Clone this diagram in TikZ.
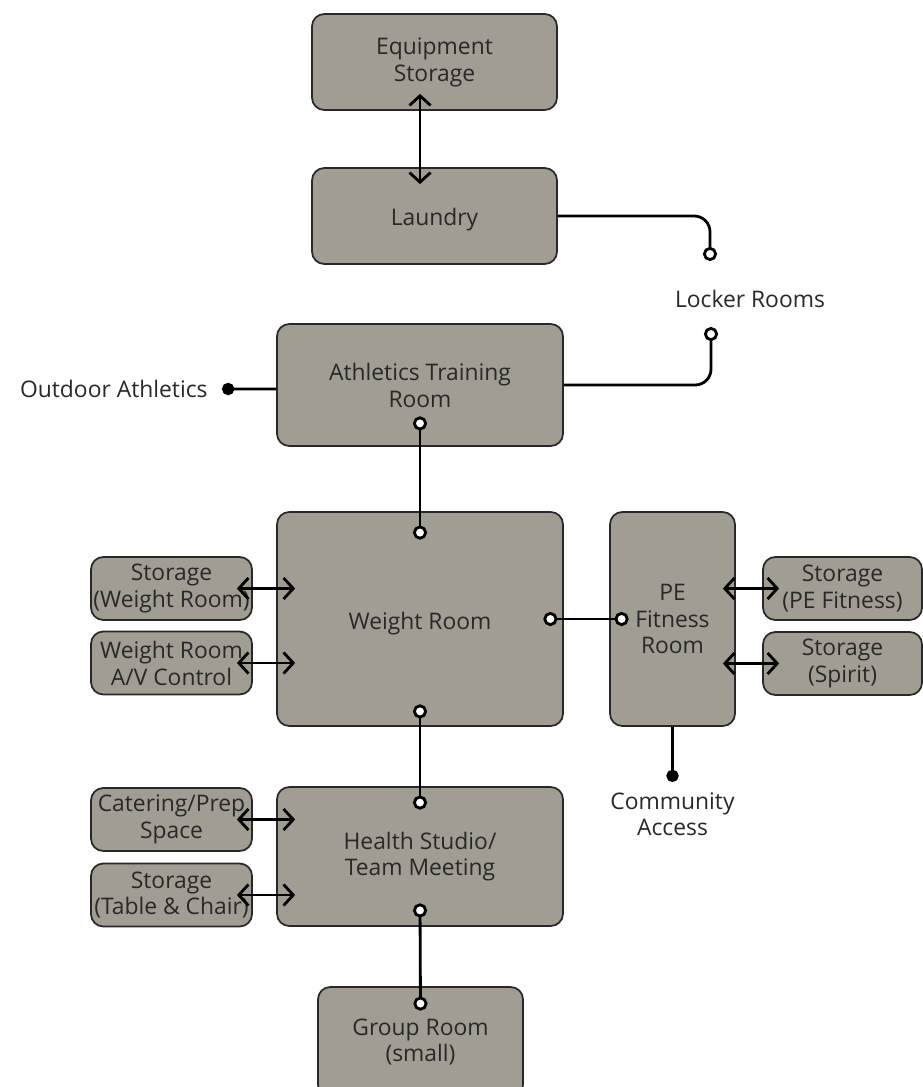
\documentclass[tikz,border=0pt]{standalone}
\usepackage{fontspec}
\setmainfont{Open Sans}
\usepackage{tikz}
\usetikzlibrary{arrows.meta,calc}
\usepackage{xcolor}
\definecolor{roomfill}{RGB}{162,157,146}
\definecolor{roomline}{RGB}{40,40,40}
\definecolor{roomtext}{RGB}{40,40,40}

\begin{document}
\begin{tikzpicture}[
    room/.style={draw=roomline, line width=1pt, rounded corners=7pt, fill=roomfill, text=roomtext,
        align=center, font=\fontsize{13}{15.3}\selectfont, minimum width=#1,
        execute at begin node={\rule{0pt}{14.5pt}}},
    side/.style={room, minimum width=3.22cm, minimum height=1.26cm, inner sep=0pt},
    tag/.style={text=roomtext, align=center, font=\fontsize{13}{15.3}\selectfont},
    dbl/.style={{Straight Barb[length=5.5pt,width=12pt]}-{Straight Barb[length=5.5pt,width=12pt]}, line width=1.6pt},
    door/.style={{Circle[length=8pt,fill=white]}-{Circle[length=8pt,fill=white]}, line width=1.6pt},
    toopen/.style={-{Circle[length=8pt,fill=white]}, line width=1.6pt, rounded corners=9pt},
    todot/.style={-{Circle[length=7pt]}, line width=1.6pt}
]
\useasboundingbox (0,0) rectangle (18.44,-21.74);

% main rooms
\node[room=4.9cm, minimum height=1.92cm] (eqp) at (8.69,-1.24) {Equipment\\Storage};
\node[room=4.9cm, minimum height=1.92cm] (laundry) at (8.69,-4.32) {Laundry};
\node[room=5.72cm, minimum height=2.44cm] (athl) at (8.4,-7.7) {Athletics Training\\Room};
\node[room=5.72cm, minimum height=4.28cm] (weight) at (8.4,-12.38) {Weight Room};
\node[room=2.5cm, minimum height=4.28cm] (pe) at (13.45,-12.38) {PE\\Fitness\\Room};
\node[room=5.72cm, minimum height=2.78cm] (health) at (8.4,-17.13) {Health Studio/\\Team Meeting};
\node[room=4.1cm, minimum height=2.2cm] (group) at (8.41,-20.84) {Group Room\\(small)};

% small side rooms
\node[side] (stwr) at (3.43,-11.77) {Storage\\(Weight Room)};
\node[side] (avc) at (3.43,-13.26) {Weight Room\\A/V Control};
\node[side] (cater) at (3.43,-16.39) {Catering/Prep\\Space};
\node[side] (table) at (3.43,-17.9) {Storage\\(Table \& Chair)};
\node[side, minimum width=3.18cm] (stpe) at (16.85,-11.77) {Storage\\(PE Fitness)};
\node[side, minimum width=3.18cm] (spirit) at (16.85,-13.27) {Storage\\(Spirit)};

% outside labels
\node[tag] (locker) at (15.0,-5.98) {Locker Rooms};
\node[tag, anchor=east, inner xsep=8pt] (outdoor) at (4.44,-7.78) {Outdoor Athletics};
\node[tag, anchor=north, inner sep=2pt] (comm) at (13.45,-15.64) {\rule{0pt}{13.2pt}Community\\Access};
\coordinate (lockA) at (14.2,-5.22);
\coordinate (lockB) at (14.22,-6.54);

% connections
\draw[dbl] ([xshift=-0.29cm, yshift=0.34cm]eqp.south) -- ([xshift=-0.29cm, yshift=-0.34cm]laundry.north);
\draw[toopen] (laundry.east) -| (lockA);
\draw[toopen] (athl.east) -| (lockB);
\draw[todot] ([yshift=-0.08cm]athl.west) -- (outdoor.east);
\draw[door] ([yshift=0.61cm]athl.south) -- ([yshift=-0.57cm]weight.north);
\draw[door] ([xshift=-0.41cm]weight.east) -- ([xshift=0.39cm]pe.west);
\draw[door] ([yshift=0.45cm]weight.south) -- ([yshift=-0.47cm]health.north);
\draw[door] ([yshift=0.47cm]health.south) -- ([yshift=-0.49cm]group.north);
\draw[todot] (pe.south) -- (comm.north);

\draw[dbl] ([xshift=-0.32cm]stwr.east) -- ($(stwr.east -| weight.west)+(0.38,0)$);
\draw[dbl] ([xshift=-0.32cm]avc.east) -- ($(avc.east -| weight.west)+(0.38,0)$);
\draw[dbl] ([xshift=-0.32cm]cater.east) -- ($(cater.east -| health.west)+(0.38,0)$);
\draw[dbl] ([xshift=-0.32cm]table.east) -- ($(table.east -| health.west)+(0.38,0)$);
\draw[dbl] ($(stpe.west -| pe.east)+(-0.26,0)$) -- ([xshift=0.34cm]stpe.west);
\draw[dbl] ($(spirit.west -| pe.east)+(-0.26,0)$) -- ([xshift=0.34cm]spirit.west);
\end{tikzpicture}
\end{document}
